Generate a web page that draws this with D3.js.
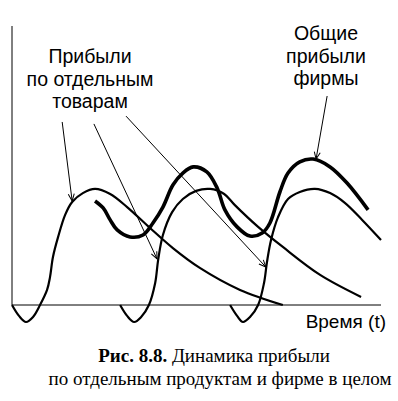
<!DOCTYPE html>
<html>
<head>
<meta charset="utf-8">
<script src="https://cdn.jsdelivr.net/npm/d3@7"></script>
<style>
  body { margin: 0; background: #fff; }
  svg { display: block; }
</style>
</head>
<body>
<svg id="mainSVG" width="398" height="401"></svg>
<script>
// Кривые прибыли (t — время, p — прибыль)
var tovar1 = [[0,0],[1.9,-3.9],[3.8,-6.1],[5.7,-4.3],[7.6,0],[9.5,5.4],[10.3,10],[11.1,17.2],[12.5,24.4],[14.4,32.3],[16.3,36.9],[19.2,40.1],[22.5,41.6],[26.6,39.8],[31.2,35.1],[37.4,27.6],[43.6,20.4],[50.9,13.3],[61.8,5.4],[73.4,0]];
var tovar2 = [[29.3,0],[31.2,-3.9],[33.1,-6.1],[35,-4.3],[37.1,0],[38.8,7.9],[39.6,16.1],[40.9,25.1],[43.4,33.3],[46.3,38],[49.9,40.9],[53.7,41.6],[57.5,39.8],[60.4,35.8],[66.7,28],[73.4,20.8],[83.5,10.8],[94.6,2.9]];
var tovar3 = [[59.1,0],[61,-3.9],[62.6,-6.1],[64.5,-4.3],[66.7,0],[68.3,7.9],[69.1,15.4],[70.2,23.3],[72.1,31.5],[74.8,38],[78,40.5],[82.1,41.6],[86.2,40.1],[90.2,36.6],[94.9,30.5],[100,23.3]];
var obshie = [[22.5,37.3],[24.7,34.8],[26.6,30.5],[28.5,26.9],[32,24.4],[35.5,25.1],[38.2,29.4],[40.9,35.1],[43.6,43],[46.3,47.3],[49.1,49.5],[52.8,47.7],[55.6,41.9],[57.7,34.1],[61,28],[64.5,24.7],[67.8,25.8],[69.9,29.4],[72.6,40.5],[74.8,47.3],[78,51.3],[81.6,52.3],[86.2,49.5],[90.8,43.7],[96.5,34.1]];

// Стрелки: [t0, p0, t1, p1]
var strelki = [[13.6,65.6,16.3,37.3],[22.2,64.9,39.3,16.5],[30.9,67.7,68.8,13.6],[85.4,74.9,82.4,52.3]];

var textTovary = ["Прибыли", "по отдельным", "товарам"];
var textFirma = ["Общие", "прибыли", "фирмы"];
var textOs = "Время (t)";
var podpisBold = "Рис. 8.8.";
var podpis1 = " Динамика прибыли";
var podpis2 = "по отдельным продуктам и фирме в целом";

var mainSVG = d3.select("#mainSVG");

// Шкалы
var xScale = d3.scaleLinear().domain([0,100]).range([12,381]);
var yScale = d3.scaleLinear().domain([0,100]).range([305,26]);

// Маркер стрелки
mainSVG.append("defs").append("marker")
	.attr("id","arr")
	.attr("viewBox","-10 -5 12 10")
	.attr("refX",0).attr("refY",0)
	.attr("markerWidth",12).attr("markerHeight",10)
	.attr("markerUnits","userSpaceOnUse")
	.attr("orient","auto")
	.append("path")
	.attr("d","M-7,-3 L0,0 L-7,3")
	.attr("fill","none")
	.attr("stroke","black")
	.attr("stroke-width",1);

// Оси
mainSVG.append("line")
	.attr("x1", xScale(0)).attr("y1", yScale(0))
	.attr("x2", xScale(100)).attr("y2", yScale(0))
	.attr("stroke","black").attr("stroke-width",1);
mainSVG.append("line")
	.attr("x1", xScale(0)).attr("y1", yScale(0))
	.attr("x2", xScale(0)).attr("y2", yScale(100))
	.attr("stroke","black").attr("stroke-width",1);

var line = d3.line()
	.x(function(d){ return xScale(d[0]); })
	.y(function(d){ return yScale(d[1]); })
	.curve(d3.curveCatmullRom.alpha(0.5));

// Кривые по товарам
mainSVG.selectAll(".tovar")
	.data([tovar1, tovar2, tovar3])
	.enter().append("path")
	.attr("class","tovar")
	.attr("d", line)
	.attr("fill","none")
	.attr("stroke","black")
	.attr("stroke-width",2.2);

// Общая прибыль
mainSVG.append("path")
	.attr("d", line(obshie))
	.attr("fill","none")
	.attr("stroke","black")
	.attr("stroke-width",3.6)
	.attr("stroke-linecap","butt");

// Стрелки
mainSVG.selectAll(".strelka")
	.data(strelki)
	.enter().append("line")
	.attr("class","strelka")
	.attr("x1", function(d){ return xScale(d[0]); })
	.attr("y1", function(d){ return yScale(d[1]); })
	.attr("x2", function(d){ return xScale(d[2]); })
	.attr("y2", function(d){ return yScale(d[3]); })
	.attr("stroke","black")
	.attr("stroke-width",1)
	.attr("marker-end","url(#arr)");

// Подписи
var sans = "'Liberation Sans', Arial, sans-serif";
mainSVG.selectAll(".lblTovar")
	.data(textTovary)
	.enter().append("text")
	.attr("class","lblTovar")
	.attr("x", 90)
	.attr("y", function(d,i){ return 63 + i*22.5; })
	.attr("text-anchor","middle")
	.attr("font-family", sans)
	.style("font-size","19.5px")
	.text(function(d){ return d; });

mainSVG.selectAll(".lblFirma")
	.data(textFirma)
	.enter().append("text")
	.attr("class","lblFirma")
	.attr("x", 326)
	.attr("y", function(d,i){ return 40 + i*22.5; })
	.attr("text-anchor","middle")
	.attr("font-family", sans)
	.style("font-size","19.5px")
	.text(function(d){ return d; });

mainSVG.append("text")
	.attr("x", 386).attr("y", 328)
	.attr("text-anchor","end")
	.attr("font-family", sans)
	.style("font-size","19px")
	.text(textOs);

// Подпись к рисунку
var serif = "'Liberation Serif', 'Times New Roman', serif";
var cap1 = mainSVG.append("text")
	.attr("x", 214).attr("y", 362)
	.attr("text-anchor","middle")
	.attr("font-family", serif)
	.style("font-size","19px");
cap1.append("tspan").attr("font-weight","bold").text(podpisBold);
cap1.append("tspan").text(podpis1);

mainSVG.append("text")
	.attr("x", 220).attr("y", 385)
	.attr("text-anchor","middle")
	.attr("font-family", serif)
	.style("font-size","19px")
	.text(podpis2);
</script>
</body>
</html>
